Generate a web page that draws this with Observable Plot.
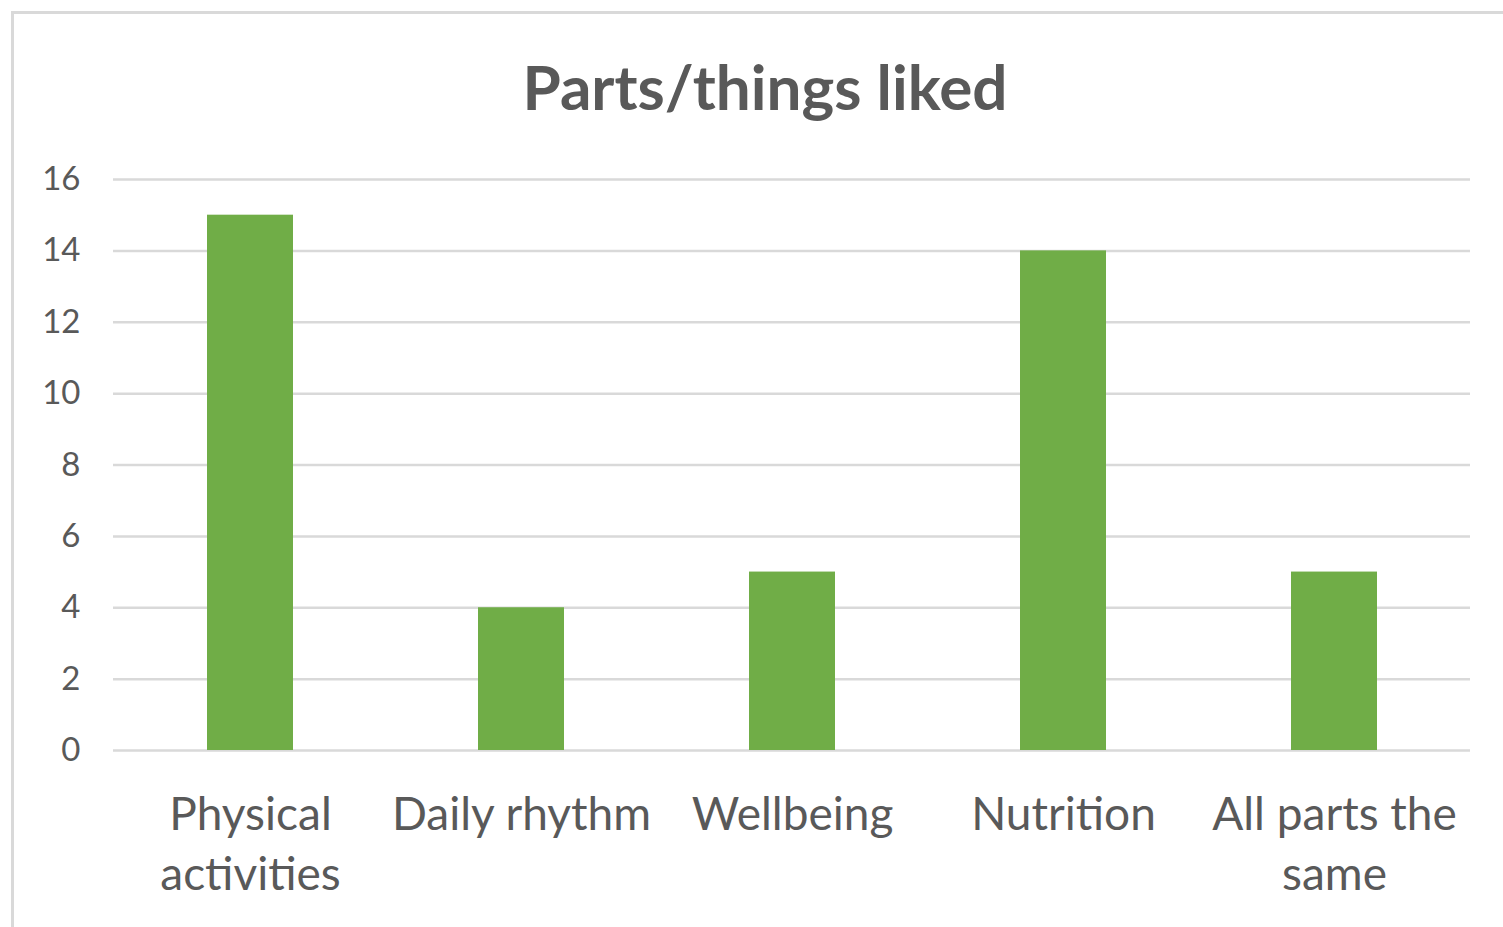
<!DOCTYPE html>
<html>
<head>
<meta charset="utf-8">
<script src="https://cdn.jsdelivr.net/npm/d3@7"></script>
<script src="https://cdn.jsdelivr.net/npm/@observablehq/plot@0.6"></script>
<style>
  html, body { margin: 0; padding: 0; background: #fff; overflow: hidden; }
  #wrap { position: relative; width: 1503px; height: 927px; overflow: hidden; }
  #border { position: absolute; left: 11px; top: 11px; width: 1600px; height: 1000px;
            border: 3px solid #d9d9d9; box-sizing: border-box; pointer-events: none; }
</style>
</head>
<body>
<div id="wrap"><div id="border"></div></div>
<script>
const title = "Parts/things liked";
const categories = ["Physical\nactivities", "Daily rhythm", "Wellbeing", "Nutrition", "All parts the\nsame"];
const values = [15, 4, 5, 14, 5];
const yTicks = [0, 2, 4, 6, 8, 10, 12, 14, 16];

const data = categories.map((c, i) => ({cat: c, val: values[i]}));
const textColor = "#595959";

const chart = Plot.plot({
  width: 1503,
  height: 927,
  marginLeft: 113,
  marginRight: 33,
  marginTop: 179,
  marginBottom: 177,
  style: {fontFamily: "Lato, 'Open Sans', sans-serif", background: "transparent", color: textColor},
  x: {type: "band", domain: categories, paddingInner: 0.683, paddingOuter: 0.342, label: null},
  y: {domain: [0, 16], label: null},
  marks: [
    Plot.ruleY(yTicks, {stroke: "#d9d9d9", strokeWidth: 2.5}),
    Plot.barY(data, {x: "cat", y: "val", fill: "#70AD47"}),
    Plot.axisY({ticks: yTicks, tickSize: 0, tickPadding: 33, fontSize: 33, fill: textColor, label: null}),
    Plot.axisX({tickSize: 0, tickPadding: 37, fontSize: 46, fill: textColor, lineHeight: 1.3, label: null}),
    Plot.text([title], {frameAnchor: "top", dx: -27, dy: -89, fontSize: 62, fontWeight: "bold", fill: textColor, lineAnchor: "middle"})
  ]
});
document.getElementById("wrap").prepend(chart);
</script>
</body>
</html>
